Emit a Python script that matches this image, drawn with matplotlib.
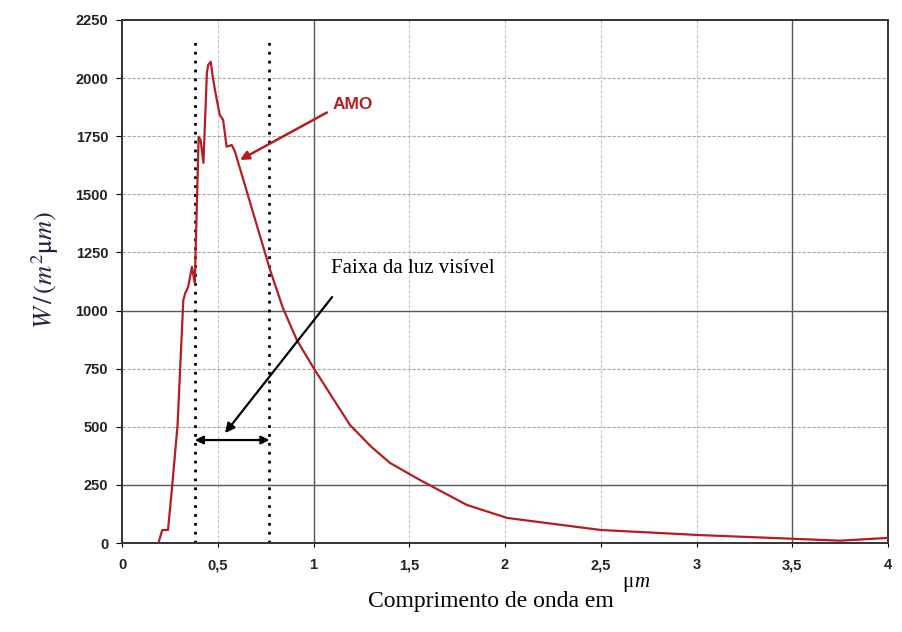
import matplotlib.pyplot as plt

# espectro AM0
wavelength = [0.19, 0.21, 0.24, 0.26, 0.29, 0.32, 0.33, 0.345, 0.365, 0.38, 0.40, 0.41,
              0.425, 0.443, 0.45, 0.463, 0.474, 0.485, 0.51, 0.528, 0.546, 0.573, 0.59,
              0.773, 0.84, 0.913, 0.997, 1.19, 1.30, 1.40, 1.556, 1.80, 2.01, 2.5, 3.02,
              3.54, 3.75, 4.0]
irradiance = [0, 56, 56, 228, 508, 1045, 1075, 1100, 1188, 1118, 1747, 1735,
              1635, 2022, 2057, 2070, 2005, 1950, 1842, 1820, 1705, 1712, 1683,
              1175, 1011, 873, 757, 508, 415, 344, 271, 164, 108, 56, 34,
              17, 10, 22]

visible_band = [0.38, 0.77]
xticks = [0, 0.5, 1, 1.5, 2, 2.5, 3, 3.5, 4]
xtick_labels = ["0", "0,5", "1", "1,5", "2", "2,5", "3", "3,5", "4"]
yticks = [0, 250, 500, 750, 1000, 1250, 1500, 1750, 2000, 2250]

plt.rcParams['mathtext.fontset'] = 'stix'

fig = plt.figure(figsize=(9.02, 6.32), dpi=100)
ax = fig.add_axes([0.1353, 0.1408, 0.8492, 0.8276])

# grade do papel
for x in xticks[1:-1]:
    ax.axvline(x, color='#c4c4c4', lw=0.8, ls=(0, (3, 1.5)), zorder=0)
for y in yticks[1:-1]:
    ax.axhline(y, color='#a6a6a6', lw=0.8, ls=(0, (3, 1.5)), zorder=0)
for x in [1, 3.5]:
    ax.axvline(x, color='#5a5a5a', lw=1.0, zorder=0)
for y in [250, 1000]:
    ax.axhline(y, color='#5a5a5a', lw=1.0, zorder=0)

ax.plot(wavelength, irradiance, color='#b41e23', lw=1.6, zorder=3)

# faixa visivel
for x in visible_band:
    ax.plot([x, x], [0, 2175], color='black', lw=2, ls=(0, (1, 2.2)), zorder=2)
ax.annotate('', xy=(visible_band[0], 443), xytext=(visible_band[1], 443),
            arrowprops=dict(arrowstyle='<|-|>', color='black', lw=1.6,
                            mutation_scale=12, shrinkA=0, shrinkB=0))
ax.annotate('', xy=(0.538, 473), xytext=(1.097, 1058),
            arrowprops=dict(arrowstyle='-|>', color='black', lw=1.6,
                            mutation_scale=14, shrinkA=0, shrinkB=0))
ax.text(1.09, 1183, 'Faixa da luz visível', family='Liberation Serif',
        fontsize=15, va='center', ha='left')

ax.annotate('', xy=(0.616, 1648), xytext=(1.07, 1852),
            arrowprops=dict(arrowstyle='-|>', color='#b41e23', lw=1.8,
                            mutation_scale=13, shrinkA=0, shrinkB=0))
ax.text(1.1, 1885, 'AMO', color='#b41e23', family='Liberation Sans',
        fontweight='bold', fontsize=12.5, va='center', ha='left')

ax.set_xlim(0, 4)
ax.set_ylim(0, 2250)
ax.set_xticks(xticks)
ax.set_xticklabels(xtick_labels)
ax.set_yticks(yticks)
for lab in ax.get_xticklabels() + ax.get_yticklabels():
    lab.set_family('Liberation Sans')
    lab.set_fontweight('bold')
    lab.set_fontsize(10.5)
    lab.set_color('#222222')
ax.tick_params(axis='y', length=4, width=0.8, pad=6)
ax.tick_params(axis='x', length=3, width=0.8, pad=8)
for s in ax.spines.values():
    s.set_linewidth(1.4)
    s.set_color('#333333')

fig.text(0.05, 0.573, r'$W\,/\,(m^2\mathrm{\mu} m)$', fontsize=19, color='#1f2340',
         rotation=90, ha='center', va='center')
fig.text(0.408, 0.0475, 'Comprimento de onda em', family='Liberation Serif',
         fontsize=17, ha='left', va='center')
fig.text(0.6896, 0.079, 'μ', family='Liberation Serif', fontsize=15,
         ha='left', va='center')
fig.text(0.7035, 0.079, 'm', family='Liberation Serif', style='italic',
         fontsize=15, ha='left', va='center')

fig.savefig('out.png', dpi=100)
